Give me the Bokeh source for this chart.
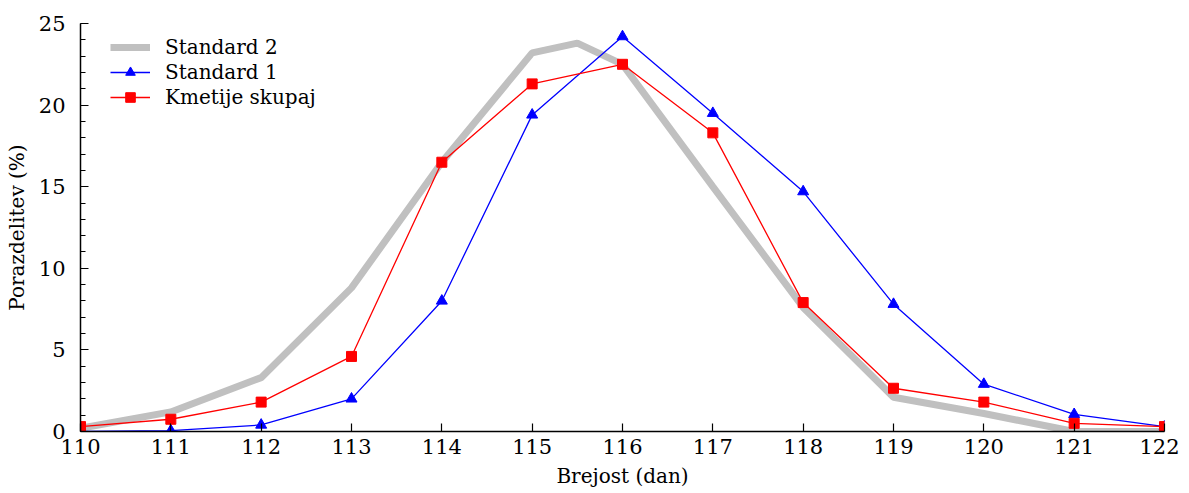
from bokeh.plotting import figure
from bokeh.models import Range1d, SingleIntervalTicker, Legend, LegendItem
from bokeh.embed import file_html
from bokeh.resources import INLINE

# Data
x_std2 = [110, 111, 112, 113, 114, 115, 115.5, 116, 117, 118, 119, 120, 121, 122]
y_std2 = [0.2, 1.2, 3.3, 8.8, 16.5, 23.2, 23.8, 22.5, 15.0, 7.6, 2.1, 1.1, 0.0, 0.0]

x_std1 = [110, 111, 112, 113, 114, 115, 116, 117, 118, 119, 120, 121, 122]
y_std1 = [0.0, 0.05, 0.4, 2.0, 8.0, 19.4, 24.2, 19.5, 14.7, 7.8, 2.9, 1.05, 0.3]

x_kmet = [110, 111, 112, 113, 114, 115, 116, 117, 118, 119, 120, 121, 122]
y_kmet = [0.3, 0.75, 1.8, 4.6, 16.5, 21.3, 22.5, 18.3, 7.9, 2.65, 1.8, 0.5, 0.3]

FONT = "DejaVu Serif"

p = figure(width=1179, height=490, output_backend="svg", toolbar_location=None,
           x_range=Range1d(110, 122), y_range=Range1d(0, 25),
           min_border_left=80, min_border_right=15, min_border_top=23, min_border_bottom=59)
p.outline_line_color = None
p.grid.visible = False

r2 = p.line(x_std2, y_std2, line_color="#c0c0c0", line_width=7)
r1l = p.line(x_std1, y_std1, line_color="#0000ff", line_width=1.3)
r1m = p.scatter(x_std1, y_std1, marker="triangle", size=11, fill_color="#0000ff", line_color="#0000ff")
rkl = p.line(x_kmet, y_kmet, line_color="#ff0000", line_width=1.3)
rkm = p.scatter(x_kmet, y_kmet, marker="square", size=10, fill_color="#ff0000", line_color="#ff0000")

# Axes
p.xaxis.ticker = SingleIntervalTicker(interval=1, num_minor_ticks=0)
p.yaxis.ticker = SingleIntervalTicker(interval=5, num_minor_ticks=5)
for ax in (p.xaxis[0], p.yaxis[0]):
    ax.major_tick_in = 8
    ax.major_tick_out = 0
    ax.minor_tick_in = 5
    ax.minor_tick_out = 0
    ax.axis_line_color = "black"
    ax.axis_line_width = 1.5
    ax.major_tick_line_width = 1.2
    ax.minor_tick_line_width = 1.2
    ax.major_label_text_font = FONT
    ax.major_label_text_font_size = "21px"
    ax.major_label_text_color = "black"
    ax.axis_label_text_font = FONT
    ax.axis_label_text_font_size = "20px"
    ax.axis_label_text_font_style = "normal"
    ax.axis_label_text_color = "black"
p.xaxis.axis_label = "Brejost (dan)"
p.yaxis.axis_label = "Porazdelitev (%)"
p.xaxis.major_label_standoff = 7
p.xaxis.axis_label_standoff = 7
p.yaxis.major_label_standoff = 15
p.yaxis.axis_label_standoff = 7

legend = Legend(items=[
    LegendItem(label="Standard 2", renderers=[r2]),
    LegendItem(label="Standard 1", renderers=[r1l, r1m]),
    LegendItem(label="Kmetije skupaj", renderers=[rkl, rkm]),
], location="top_left")
legend.border_line_color = None
legend.background_fill_alpha = 0
legend.margin = 0
legend.padding = 0
legend.spacing = 1
legend.glyph_width = 40
legend.glyph_height = 24
legend.label_height = 24
legend.label_standoff = 15
legend.label_text_font = FONT
legend.label_text_font_size = "20px"
legend.label_text_color = "black"
legend.location = (30, 322)
p.add_layout(legend)

open("out.html", "w").write(file_html(p, INLINE))
